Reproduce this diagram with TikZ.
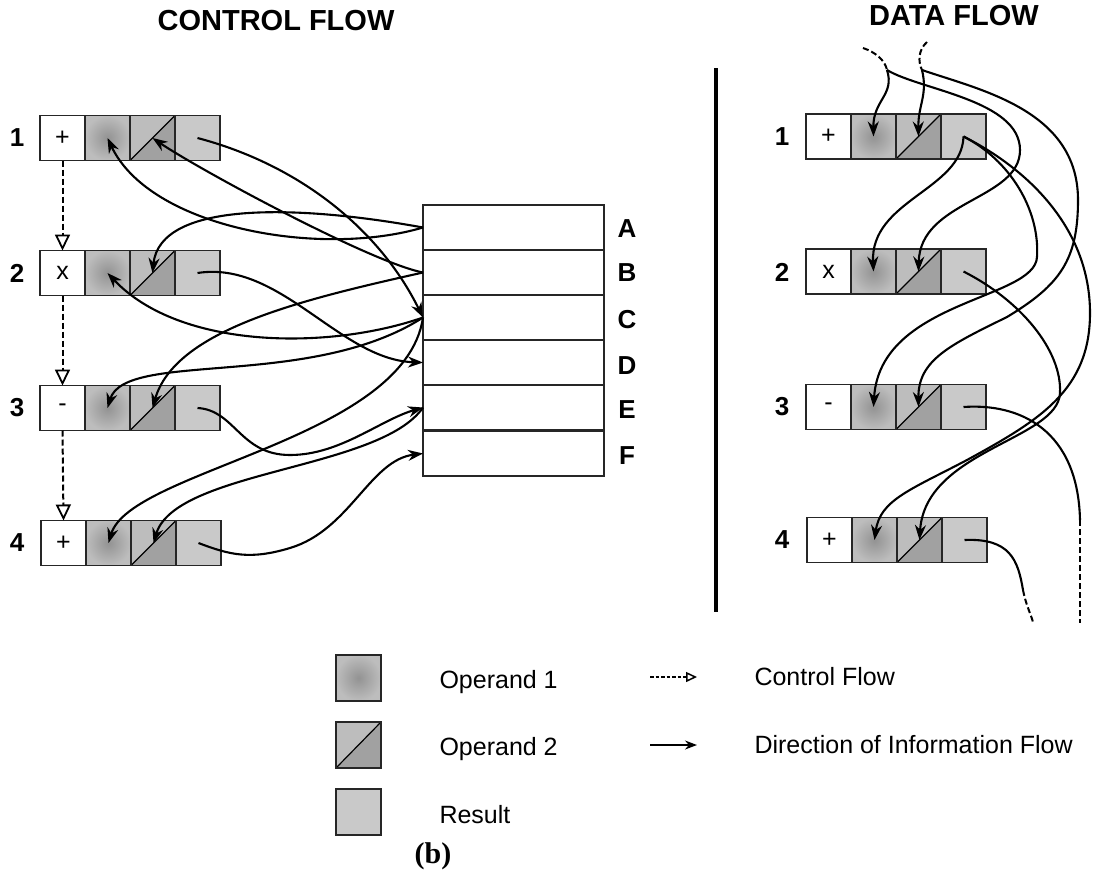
\documentclass[tikz,border=0pt]{standalone}
\usepackage{fontspec}
\setmainfont{Liberation Sans}
\newfontfamily\serifb{Liberation Serif}
\usetikzlibrary{arrows.meta,calc}

\tikzset{
 cell/.style={draw=black!85, line width=1.3pt, minimum width=45pt, minimum height=45pt, inner sep=0pt, outer sep=0pt},
 opcell/.style={cell, fill=white, font=\fontsize{25}{25}\selectfont},
 op1cell/.style={cell, shading=radial, inner color=gray!85, outer color=gray!52},
 op2cell/.style={cell, fill=gray!52},
 rescell/.style={cell, fill=gray!42},
 memcell/.style={draw=black!85, line width=1.3pt, minimum width=181pt, minimum height=45pt, inner sep=0pt, outer sep=0pt, fill=white},
 rowlabel/.style={font=\bfseries\fontsize{26}{26}\selectfont},
 title/.style={font=\bfseries\fontsize{29}{29}\selectfont},
 legtext/.style={font=\fontsize{25}{25}\selectfont, anchor=west},
 flow/.style={line width=2.1pt, -{Stealth[length=15pt,width=11pt]}},
 flowline/.style={line width=2.1pt},
 ctrl/.style={line width=2pt, dash pattern=on 6pt off 3pt, -{Triangle[open,length=16pt,width=15pt,line width=1.8pt]}},
 dashline/.style={line width=2pt, dash pattern=on 6pt off 3pt},
 legctrl/.style={line width=1.5pt, dash pattern=on 3.5pt off 2pt, -{Triangle[open,length=11pt,width=10pt,line width=1.5pt]}},
 legflow/.style={line width=1.6pt, -{Stealth[length=12pt,width=9pt]}},
}

\newcommand{\oprow}[4]{%
 \node[opcell] (#1o) at (#2+22.5,#3) {#4};
 \node[op1cell] (#1a) at (#2+67.5,#3) {};
 \node[op2cell] (#1b) at (#2+112.5,#3) {};
 \node[rescell] (#1r) at (#2+157.5,#3) {};
 \fill[gray!74] (#1b.south west) -- (#1b.north east) -- (#1b.south east) -- cycle;
 \draw[line width=1.2pt] (#1b.south west) -- (#1b.north east);
 \draw[line width=1.3pt, draw=black!85] (#1b.south west) rectangle (#1b.north east);
}

\begin{document}
\begin{tikzpicture}[x=1pt,y=-1pt]
\useasboundingbox (0,0) rectangle (1096,879);
\fill[white] (0,0) rectangle (1096,879);

% titles
\node[title] (tc) at (276,21) {CONTROL FLOW};
\node[title] (td) at (954,16) {DATA FLOW};

% control flow rows
\oprow{c1}{40}{138}{+}
\oprow{c2}{40}{273}{x}
\oprow{c3}{40}{408}{-}
\oprow{c4}{41}{543}{+}
\node[rowlabel] (n1) at (17,138) {1};
\node[rowlabel] (n2) at (17,273) {2};
\node[rowlabel] (n3) at (17,408) {3};
\node[rowlabel] (n4) at (17,543) {4};

\draw[ctrl] (c1o.south) -- (c2o.north);
\draw[ctrl] (c2o.south) -- (c3o.north);
\draw[ctrl] (c3o.south) -- (c4o.north);

% memory
\node[memcell] (mA) at (513.5,227.5) {};
\node[memcell] (mB) at (513.5,272.5) {};
\node[memcell] (mC) at (513.5,317.5) {};
\node[memcell] (mD) at (513.5,362.5) {};
\node[memcell] (mE) at (513.5,407.5) {};
\node[memcell] (mF) at (513.5,453.5) {};
\node[rowlabel] (lA) at (627,229) {A};
\node[rowlabel] (lB) at (627,273) {B};
\node[rowlabel] (lC) at (627,320) {C};
\node[rowlabel] (lD) at (627,366) {D};
\node[rowlabel] (lE) at (627,410) {E};
\node[rowlabel] (lF) at (627,456) {F};

% control flow connectors
\draw[flow] (mA.west) .. controls (320,258) and (150,228) .. (c1a.center);
\draw[flow] (mB.west) .. controls (370,262) and (200,170) .. (c1b.center);
\draw[flow] (c1r.center) .. controls (300,165) and (380,230) .. (mC.west);
\draw[flow] (mA.west) .. controls (300,205) and (160,200) .. (c2b.center);
\draw[flow] (mC.west) .. controls (330,350) and (180,350) .. (c2a.center);
\draw[flow] (c2r.center) .. controls (280,260) and (340,360) .. (mD.west);
\draw[flow] (mB.west) .. controls (300,300) and (175,330) .. (c3b.center);
\draw[flow] (mC.west) .. controls (310,390) and (125,350) .. (c3a.center);
\draw[flow] (c3r.center) .. controls (235,410) and (240,455) .. (290,455) .. controls (340,455) and (380,420) .. (mE.west);
\draw[flow] (mC.west) .. controls (405,440) and (130,470) .. (c4a.center);
\draw[flow] (mE.west) .. controls (380,470) and (175,470) .. (c4b.center);
\draw[flow] (c4r.center) .. controls (230,555) and (250,560) .. (290,548) .. controls (350,530) and (370,460) .. (mF.west);

% separator
\coordinate (septop) at (716,68);
\coordinate (sepbot) at (716,612);
\draw[line width=4pt] (septop) -- (sepbot);

% data flow rows
\oprow{d1}{806}{136.5}{+}
\oprow{d2}{806}{271.5}{x}
\oprow{d3}{806}{407}{-}
\oprow{d4}{807}{540}{+}
\node[rowlabel] (r1) at (782,137) {1};
\node[rowlabel] (r2) at (782,272) {2};
\node[rowlabel] (r3) at (782,407) {3};
\node[rowlabel] (r4) at (782,540) {4};

% data flow connectors
\coordinate (inA0) at (863,48);
\coordinate (inA) at (887,70);
\coordinate (inB0) at (927,42);
\coordinate (inB) at (922,70);
\coordinate (k3) at (1080,520);
\coordinate (out3) at (1080,623);
\coordinate (k4) at (1023,590);
\coordinate (out4) at (1033,622);

\draw[dashline] (inA0) .. controls (875,52) and (885,60) .. (inA);
\draw[flow] (inA) .. controls (895,95) and (873,100) .. (d1a.center);
\draw[flow] (inA) .. controls (920,90) and (1020,100) .. (1020,150) .. controls (1020,200) and (920,200) .. (d2b.center);
\draw[dashline] (inB0) .. controls (918,50) and (918,62) .. (inB);
\draw[flow] (inB) .. controls (928,95) and (918,105) .. (d1b.center);
\draw[flow] (inB) .. controls (980,90) and (1078,110) .. (1078,200) .. controls (1078,260) and (1060,285) .. (1007,317) .. controls (950,345) and (918,360) .. (d3b.center);
\draw[flow] (d1r.center) .. controls (962,190) and (870,200) .. (d2a.center);
\draw[flow] (d1r.center) .. controls (1010,160) and (1040,210) .. (1037,257) .. controls (1035,300) and (880,300) .. (d3a.center);
\draw[flow] (d1r.center) .. controls (1030,170) and (1090,230) .. (1090,313) .. controls (1090,390) and (1040,420) .. (967,460) .. controls (910,490) and (880,500) .. (d4a.center);
\draw[flow] (d2r.center) .. controls (1020,300) and (1062,350) .. (1060,393) .. controls (1058,440) and (925,450) .. (d4b.center);
\draw[flowline] (d3r.center) .. controls (1020,403) and (1078,430) .. (k3);
\draw[dashline] (k3) -- (out3);
\draw[flowline] (d4r.center) .. controls (1010,538) and (1018,560) .. (k4);
\draw[dashline] (k4) .. controls (1026,605) and (1030,612) .. (out4);

% legend
\node[op1cell, minimum height=46pt] (L1) at (358.5,678) {};
\node[op2cell, minimum height=46pt] (L2) at (358.5,745) {};
\fill[gray!74] (L2.south west) -- (L2.north east) -- (L2.south east) -- cycle;
\draw[line width=1.2pt] (L2.south west) -- (L2.north east);
\draw[line width=1.3pt, draw=black!85] (L2.south west) rectangle (L2.north east);
\node[rescell, minimum height=46pt] (L3) at (358.5,812) {};
\node[legtext] (T1) at (436,682) {Operand 1};
\node[legtext] (T2) at (436,749) {Operand 2};
\node[legtext] (T3) at (436,815) {Result};
\coordinate (la1) at (650,677);
\coordinate (la2) at (697,677);
\coordinate (lb1) at (650,745);
\coordinate (lb2) at (697,745);
\draw[legctrl] (la1) -- (la2);
\draw[legflow] (lb1) -- (lb2);
\node[legtext] (T4) at (751,677) {Control Flow};
\node[legtext] (T5) at (751,745) {Direction of Information Flow};

\node[font=\serifb\bfseries\fontsize{30}{30}\selectfont] (cap) at (433,856) {(b)};
\end{tikzpicture}
\end{document}
